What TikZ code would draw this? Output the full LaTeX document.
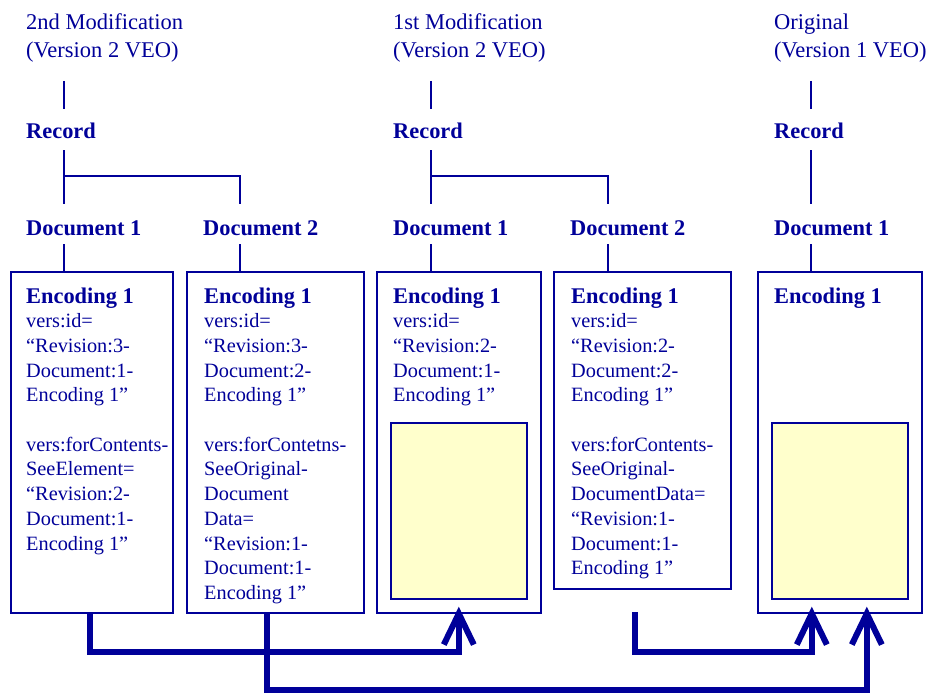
\documentclass[tikz,border=0pt]{standalone}
\usepackage{fontspec}
\setmainfont{Liberation Serif}
\usetikzlibrary{calc}
\definecolor{veo}{HTML}{000099}
\definecolor{paleyel}{HTML}{FFFFCC}
\newcommand\bodyfnt{\fontsize{20.3}{24.7}\selectfont}
\newcommand\headfnt{\fontsize{22.4}{24.7}\selectfont\bfseries}
\newcommand\titlefnt{\fontsize{22.5}{28}\selectfont}
\begin{document}
\begin{tikzpicture}[x=1pt,y=-1pt,
  link/.style={draw=veo,line width=1.6pt},
  boxstyle/.style={draw=veo,line width=1.6pt,fill=white,inner sep=0pt,anchor=north west},
  datastyle/.style={draw=veo,line width=1.6pt,fill=paleyel,inner sep=0pt,anchor=north west},
  flow/.style={draw=veo,line width=6pt,line join=miter},
  txt/.style={text=veo,inner sep=0pt,anchor=base west},
  lbl/.style={text=veo,inner sep=0pt,anchor=base west,font=\headfnt}]
\useasboundingbox (0,0) rectangle (930,693);

% boxes
\node[boxstyle,minimum width=162pt,minimum height=341pt] (box1) at (10,271) {};
\node[boxstyle,minimum width=177pt,minimum height=341pt] (box2) at (186,271) {};
\node[boxstyle,minimum width=164pt,minimum height=341pt] (box3) at (376,271) {};
\node[boxstyle,minimum width=177pt,minimum height=317pt] (box4) at (553,271) {};
\node[boxstyle,minimum width=164pt,minimum height=341pt] (box5) at (757,271) {};
\node[datastyle,minimum width=136pt,minimum height=176pt] (y3) at (390,422) {};
\node[datastyle,minimum width=136pt,minimum height=176pt] (y5) at (771,422) {};

% titles
\node[txt] (t1) at (26,30) {\parbox[t]{200pt}{\titlefnt 2nd Modification\\(Version 2 VEO)}};
\node[txt] (t2) at (393,30) {\parbox[t]{200pt}{\titlefnt 1st Modification\\(Version 2 VEO)}};
\node[txt] (t3) at (774,30) {\parbox[t]{200pt}{\titlefnt Original\\(Version 1 VEO)}};

% records
\node[lbl] (r1) at (26,139) {Record};
\node[lbl] (r2) at (393,139) {Record};
\node[lbl] (r3) at (774,139) {Record};

% documents
\node[lbl] (d11) at (26,235) {Document 1};
\node[lbl] (d12) at (203,235) {Document 2};
\node[lbl] (d21) at (393,235) {Document 1};
\node[lbl] (d22) at (570,235) {Document 2};
\node[lbl] (d31) at (774,235) {Document 1};

% box texts
\node[txt] (e1) at (26,303) {\parbox[t]{200pt}{\bodyfnt{\headfnt Encoding 1}\\
vers:id=\\
“Revision:3-\\
Document:1-\\
Encoding 1”\\[24.7pt]
vers:forContents-\\
SeeElement=\\
“Revision:2-\\
Document:1-\\
Encoding 1”}};
\node[txt] (e2) at (204,303) {\parbox[t]{200pt}{\bodyfnt{\headfnt Encoding 1}\\
vers:id=\\
“Revision:3-\\
Document:2-\\
Encoding 1”\\[24.7pt]
vers:forContetns-\\
SeeOriginal-\\
Document\\
Data=\\
“Revision:1-\\
Document:1-\\
Encoding 1”}};
\node[txt] (e3) at (393,303) {\parbox[t]{200pt}{\bodyfnt{\headfnt Encoding 1}\\
vers:id=\\
“Revision:2-\\
Document:1-\\
Encoding 1”}};
\node[txt] (e4) at (571,303) {\parbox[t]{200pt}{\bodyfnt{\headfnt Encoding 1}\\
vers:id=\\
“Revision:2-\\
Document:2-\\
Encoding 1”\\[24.7pt]
vers:forContents-\\
SeeOriginal-\\
DocumentData=\\
“Revision:1-\\
Document:1-\\
Encoding 1”}};
\node[lbl] (e5) at (774,303) {Encoding 1};

% thin tree connectors
\coordinate (c1a) at (64,81);  \coordinate (c1b) at (64,109);
\coordinate (c1c) at (64,150); \coordinate (c1d) at (64,204);
\coordinate (c1e) at (64,176); \coordinate (c1f) at (240,204);
\coordinate (c1g) at (64,244); \coordinate (c1h) at (240,244);
\draw[link] (c1a) -- (c1b);
\draw[link] (c1c) -- (c1d);
\draw[link] (c1e) -| (c1f);
\draw[link] (c1g) -- (box1.north -| c1g);
\draw[link] (c1h) -- (box2.north -| c1h);

\coordinate (c2a) at (431,81);  \coordinate (c2b) at (431,109);
\coordinate (c2c) at (431,150); \coordinate (c2d) at (431,204);
\coordinate (c2e) at (431,176); \coordinate (c2f) at (608,204);
\coordinate (c2g) at (431,244); \coordinate (c2h) at (608,244);
\draw[link] (c2a) -- (c2b);
\draw[link] (c2c) -- (c2d);
\draw[link] (c2e) -| (c2f);
\draw[link] (c2g) -- (box3.north -| c2g);
\draw[link] (c2h) -- (box4.north -| c2h);

\coordinate (c3a) at (811,81);  \coordinate (c3b) at (811,109);
\coordinate (c3c) at (811,150); \coordinate (c3d) at (811,204);
\coordinate (c3g) at (811,244);
\draw[link] (c3a) -- (c3b);
\draw[link] (c3c) -- (c3d);
\draw[link] (c3g) -- (box5.north -| c3g);

% thick reference arrows
\coordinate (tip1) at ($(y3.south)+(0,14)$);
\coordinate (tip2) at ($(y5.south)+(-28,14)$);
\coordinate (tip3) at ($(y5.south)+(27,14)$);
\coordinate (a1s) at (90,612);
\coordinate (a2s) at (267,612);
\coordinate (a3s) at (635,612);

\draw[flow] (a1s) -- ++(0,40) -| (tip1);
\draw[flow] (a2s) -- ++(0,78) -| (tip3);
\draw[flow] (a3s) -- ++(0,40) -| (tip2);
\foreach \t in {tip1,tip2,tip3}
  \draw[flow] ($(\t)+(-15,31)$) -- (\t) -- ($(\t)+(15,31)$);
\end{tikzpicture}
\end{document}
